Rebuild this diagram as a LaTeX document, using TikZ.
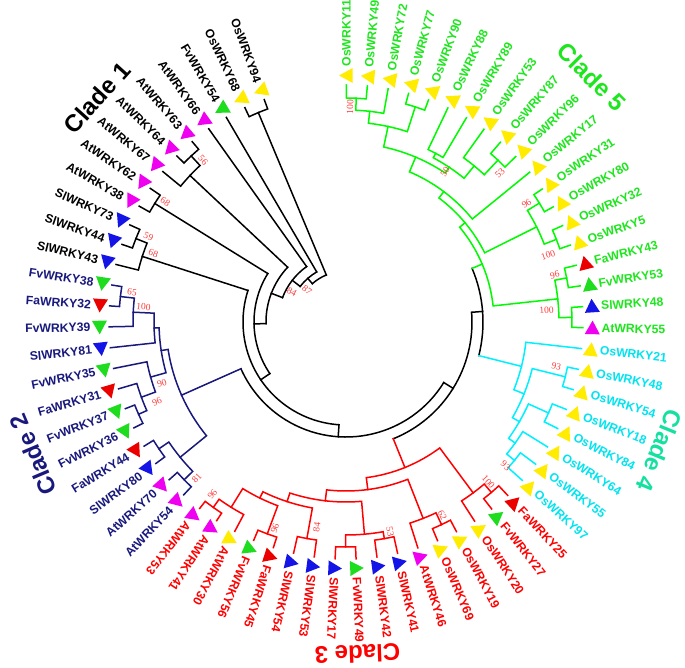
\documentclass[tikz,border=0pt]{standalone}
\usepackage{fontspec}
\setmainfont{Liberation Sans}
\newfontfamily\bsfont{Liberation Serif}
\definecolor{cnavy}{RGB}{25,25,125}
\definecolor{cred}{RGB}{255,0,0}
\definecolor{ccyan}{RGB}{0,240,255}
\definecolor{ccyantext}{RGB}{0,228,240}
\definecolor{cgreen}{RGB}{0,250,0}
\definecolor{cgreentext}{RGB}{30,230,30}
\definecolor{cmint}{RGB}{20,225,160}
\definecolor{tY}{RGB}{255,236,0}
\definecolor{tG}{RGB}{30,220,30}
\definecolor{tR}{RGB}{235,0,0}
\definecolor{tB}{RGB}{20,20,230}
\definecolor{tM}{RGB}{240,0,240}
\definecolor{bsred}{RGB}{255,60,60}
\makeatletter
\newcommand\setang[2]{\pgfmathsetmacro\my@tmp{#2}\expandafter\let\csname ang@#1\endcsname\my@tmp}
\newcommand\A[1]{\csname ang@#1\endcsname}
\newcommand\setrad[2]{\expandafter\def\csname rad@#1\endcsname{#2}}
\newcommand\R[1]{\csname rad@#1\endcsname}
\makeatother
% leaf: name, index, triangle colour, text, text colour, side (R/L)
\newcommand\lf[6]{%
  \setang{#1}{89.9-5.0704*(#2)}\setrad{#1}{237}%
  \coordinate (#1) at (\A{#1}:237pt);%
  \fill[#3, shift={(\A{#1}:246.5pt)}, rotate=\A{#1}] (-7.5pt,-6.3pt) -- (7.5pt,-6.3pt) -- (0pt,7.3pt) -- cycle;%
  \ifx R#6\node[lbl, text=#5, rotate=\A{#1}, anchor=west] (L#1) at (\A{#1}:255.5pt) {#4};%
  \else\pgfmathsetmacro\rot{\A{#1}+180}\node[lbl, text=#5, rotate=\rot, anchor=east] (L#1) at (\A{#1}:255.5pt) {#4};\fi}
% internal node: name, radius, child1, child2, style
\newcommand\tn[5]{%
  \setang{#1}{((\A{#3})+(\A{#4}))/2}\setrad{#1}{#2}%
  \draw[br,#5] (\A{#3}:\R{#3}pt) -- (\A{#3}:#2pt) arc[start angle=\A{#3}, end angle=\A{#4}, radius=#2pt] -- (\A{#4}:\R{#4}pt);%
  \coordinate (#1) at (\A{#1}:#2pt);}
% backbone node: name, radius, child1, child2, style1, style2
\newcommand\bb[6]{%
  \setang{#1}{((\A{#3})+(\A{#4}))/2}\setrad{#1}{#2}%
  \draw[br,brK] (\A{#3}:#2pt) arc[start angle=\A{#3}, end angle=\A{#4}, radius=#2pt];%
  \draw[br,#5] (\A{#3}:#2pt) -- (\A{#3}:\R{#3}pt);%
  \draw[br,#6] (\A{#4}:#2pt) -- (\A{#4}:\R{#4}pt);%
  \coordinate (#1) at (\A{#1}:#2pt);}
\newcommand\bs[5]{\node[bsl, rotate=#4] (#5) at (#1:#2pt) {#3};}
\begin{document}
\begin{tikzpicture}[
  br/.style={line width=1.5pt, line cap=rect},
  brG/.style={draw=cgreen}, brC/.style={draw=ccyan}, brR/.style={draw=cred},
  brN/.style={draw=cnavy}, brK/.style={draw=black},
  lbl/.style={font=\bfseries\fontsize{12.2}{14}\selectfont, inner sep=0pt},
  bsl/.style={font=\bsfont\fontsize{9.5}{10}\selectfont, text=bsred, inner sep=0pt},
  cl/.style={font=\bfseries\fontsize{24}{28}\selectfont, inner sep=0pt}]
\fill[white] (-346pt,-346pt) rectangle (339pt,322pt);
\useasboundingbox (-346pt,-346pt) rectangle (339pt,322pt);
% ---------------- leaves ----------------
% Clade 5
\lf{Os11}{0}{tY}{OsWRKY11}{cgreentext}{R}
\lf{Os49}{1}{tY}{OsWRKY49}{cgreentext}{R}
\lf{Os72}{2}{tY}{OsWRKY72}{cgreentext}{R}
\lf{Os77}{3}{tY}{OsWRKY77}{cgreentext}{R}
\lf{Os90}{4}{tY}{OsWRKY90}{cgreentext}{R}
\lf{Os88}{5}{tY}{OsWRKY88}{cgreentext}{R}
\lf{Os89}{6}{tY}{OsWRKY89}{cgreentext}{R}
\lf{Os53}{7}{tY}{OsWRKY53}{cgreentext}{R}
\lf{Os87}{8}{tY}{OsWRKY87}{cgreentext}{R}
\lf{Os96}{9}{tY}{OsWRKY96}{cgreentext}{R}
\lf{Os17}{10}{tY}{OsWRKY17}{cgreentext}{R}
\lf{Os31}{11}{tY}{OsWRKY31}{cgreentext}{R}
\lf{Os80}{12}{tY}{OsWRKY80}{cgreentext}{R}
\lf{Os32}{13}{tY}{OsWRKY32}{cgreentext}{R}
\lf{Os5}{14}{tY}{OsWRKY5}{cgreentext}{R}
\lf{Fa43}{15}{tR}{FaWRKY43}{cgreentext}{R}
\lf{Fv53}{16}{tG}{FvWRKY53}{cgreentext}{R}
\lf{Sl48}{17}{tB}{SlWRKY48}{cgreentext}{R}
\lf{At55}{18}{tM}{AtWRKY55}{cgreentext}{R}
% Clade 4
\lf{Os21}{19}{tY}{OsWRKY21}{ccyantext}{R}
\lf{Os48}{20}{tY}{OsWRKY48}{ccyantext}{R}
\lf{Os54}{21}{tY}{OsWRKY54}{ccyantext}{R}
\lf{Os18}{22}{tY}{OsWRKY18}{ccyantext}{R}
\lf{Os84}{23}{tY}{OsWRKY84}{ccyantext}{R}
\lf{Os64}{24}{tY}{OsWRKY64}{ccyantext}{R}
\lf{Os55}{25}{tY}{OsWRKY55}{ccyantext}{R}
\lf{Os97}{26}{tY}{OsWRKY97}{ccyantext}{R}
% Clade 3
\lf{Fa25}{27}{tR}{FaWRKY25}{cred}{R}
\lf{Fv27}{28}{tG}{FvWRKY27}{cred}{R}
\lf{Os20}{29}{tY}{OsWRKY20}{cred}{R}
\lf{Os19}{30}{tY}{OsWRKY19}{cred}{R}
\lf{Os69}{31}{tY}{OsWRKY69}{cred}{R}
\lf{At46}{32}{tM}{AtWRKY46}{cred}{R}
\lf{Sl41}{33}{tB}{SlWRKY41}{cred}{R}
\lf{Sl42}{34}{tB}{SlWRKY42}{cred}{R}
\lf{Fv49}{35}{tG}{FvWRKY49}{cred}{R}
\lf{Sl17}{36}{tB}{SlWRKY17}{cred}{R}
\lf{Sl53}{37}{tB}{SlWRKY53}{cred}{R}
\lf{Sl54}{38}{tB}{SlWRKY54}{cred}{R}
\lf{Fa45}{39}{tR}{FaWRKY45}{cred}{R}
\lf{Fv56}{40}{tG}{FvWRKY56}{cred}{R}
\lf{At30}{41}{tY}{AtWRKY30}{cred}{R}
\lf{At41}{42}{tM}{AtWRKY41}{cred}{R}
\lf{At53}{43}{tM}{AtWRKY53}{cred}{R}
% Clade 2
\lf{At54}{44}{tM}{AtWRKY54}{cnavy}{L}
\lf{At70}{45}{tM}{AtWRKY70}{cnavy}{L}
\lf{Sl80}{46}{tB}{SlWRKY80}{cnavy}{L}
\lf{Fa44}{47}{tR}{FaWRKY44}{cnavy}{L}
\lf{Fv36}{48}{tG}{FvWRKY36}{cnavy}{L}
\lf{Fv37}{49}{tG}{FvWRKY37}{cnavy}{L}
\lf{Fa31}{50}{tR}{FaWRKY31}{cnavy}{L}
\lf{Fv35}{51}{tG}{FvWRKY35}{cnavy}{L}
\lf{Sl81}{52}{tB}{SlWRKY81}{cnavy}{L}
\lf{Fv39}{53}{tG}{FvWRKY39}{cnavy}{L}
\lf{Fa32}{54}{tR}{FaWRKY32}{cnavy}{L}
\lf{Fv38}{55}{tG}{FvWRKY38}{cnavy}{L}
% Clade 1
\lf{Sl43}{56}{tB}{SlWRKY43}{black}{L}
\lf{Sl44}{57}{tB}{SlWRKY44}{black}{L}
\lf{Sl73}{58}{tB}{SlWRKY73}{black}{L}
\lf{At38}{59}{tM}{AtWRKY38}{black}{L}
\lf{At62}{60}{tM}{AtWRKY62}{black}{L}
\lf{At67}{61}{tM}{AtWRKY67}{black}{L}
\lf{At64}{62}{tM}{AtWRKY64}{black}{L}
\lf{At63}{63}{tM}{AtWRKY63}{black}{L}
\lf{At66}{64}{tM}{AtWRKY66}{black}{L}
\lf{Fv54}{65}{tG}{FvWRKY54}{black}{L}
\lf{Os68}{66}{tY}{OsWRKY68}{black}{L}
\lf{Os94}{67}{tY}{OsWRKY94}{black}{L}
% ---------------- Clade 5 ----------------
\tn{nAa}{224}{Os11}{Os49}{brG}
\tn{nA}{212}{nAa}{Os72}{brG}
\tn{nB}{226}{Os77}{Os90}{brG}
\tn{nAB}{200}{nA}{nB}{brG}
\tn{nEE}{191}{Os88}{Os89}{brG}
\tn{nES}{222}{Os87}{Os96}{brG}
\tn{nFT}{202}{Os53}{nES}{brG}
\tn{nFifty}{186}{nEE}{nFT}{brG}
\tn{nUa}{179}{nAB}{nFifty}{brG}
\tn{nFb}{163}{nUa}{Os17}{brG}
\tn{nTE}{227}{Os31}{Os80}{brG}
\tn{nTF}{226}{Os32}{Os5}{brG}
\tn{nGa}{213}{nTE}{nTF}{brG}
\tn{nFa}{155}{nFb}{nGa}{brG}
\tn{nFF}{225}{Fa43}{Fv53}{brG}
\tn{nSA}{226}{Sl48}{At55}{brG}
\tn{nGd}{213}{nFF}{nSA}{brG}
\tn{nCfive}{148}{nFa}{nGd}{brG}
% ---------------- Clade 4 ----------------
\tn{nQa}{226}{Os48}{Os54}{brC}
\tn{nQb}{222}{Os18}{Os84}{brC}
\tn{nQc}{218}{Os55}{Os97}{brC}
\tn{nQd}{208}{Os64}{nQc}{brC}
\tn{nQe}{200}{nQb}{nQd}{brC}
\tn{nQf}{192}{nQa}{nQe}{brC}
\tn{nCfour}{181}{Os21}{nQf}{brC}
% ---------------- Clade 3 ----------------
\tn{nHa}{224}{Fa25}{Fv27}{brR}
\tn{nHb}{213}{nHa}{Os20}{brR}
\tn{nHc}{224}{Os19}{Os69}{brR}
\tn{nHd}{211}{At46}{nHc}{brR}
\tn{nHe}{220}{Sl41}{Sl42}{brR}
\tn{nHf}{225}{Fv49}{Sl17}{brR}
\tn{nHg}{213}{nHe}{nHf}{brR}
\tn{nHh}{220}{Sl53}{Sl54}{brR}
\tn{nHi}{226}{Fa45}{Fv56}{brR}
\tn{nHj}{228}{At41}{At53}{brR}
\tn{nHk}{218}{At30}{nHj}{brR}
\tn{nHl}{196}{nHi}{nHk}{brR}
\tn{nHm}{189}{nHh}{nHl}{brR}
\tn{nHn}{180}{nHg}{nHm}{brR}
\tn{nHo}{169}{nHd}{nHn}{brR}
\tn{nCthree}{157}{nHb}{nHo}{brR}
% ---------------- Clade 2 ----------------
\tn{nKa}{227}{Fa32}{Fv38}{brN}
\tn{nKb}{213}{Fv39}{nKa}{brN}
\tn{nKc}{192}{Sl81}{nKb}{brN}
\tn{nKd}{227}{Fv36}{Fv37}{brN}
\tn{nKe}{218}{nKd}{Fa31}{brN}
\tn{nKf}{203}{nKe}{Fv35}{brN}
\tn{nKg}{187}{nKf}{nKc}{brN}
\tn{nKh}{226}{Sl80}{Fa44}{brN}
\tn{nKi}{226}{At54}{At70}{brN}
\tn{nKj}{214}{nKi}{nKh}{brN}
\tn{nCtwo}{180}{nKj}{nKg}{brN}
% ---------------- Clade 1 ----------------
\tn{nMa}{226}{Sl44}{Sl73}{brK}
\tn{nMb}{214}{Sl43}{nMa}{brK}
\tn{nMc}{225}{At38}{At62}{brK}
\tn{nMd}{227}{At64}{At63}{brK}
\tn{nMe}{214}{At67}{nMd}{brK}
\tn{nMf}{227}{Os68}{Os94}{brK}
% ---------------- backbone ----------------
\bb{nY}{137}{nCfive}{nCfour}{brG}{brC}
\bb{nZ}{126}{nY}{nCthree}{brK}{brR}
\bb{nW}{115}{nZ}{nCtwo}{brK}{brN}
\bb{nV}{103}{nW}{nMb}{brK}{brK}
\bb{nU}{92}{nV}{nMc}{brK}{brK}
\bb{nRa}{80}{nU}{nMe}{brK}{brK}
\bb{nRb}{68}{nRa}{At66}{brK}{brK}
\bb{nRc}{58}{nRb}{Fv54}{brK}{brK}
\bb{nRd}{51}{nRc}{nMf}{brK}{brK}
% ---------------- bootstrap values ----------------
\bs{88.9}{215}{100}{88.9}{b1}
\bs{56.6}{180}{50}{56.6}{b2}
\bs{44.0}{214}{53}{44}{b3}
\bs{33.3}{216}{96}{33.3}{b4}
\bs{18.3}{213}{100}{18.3}{b5}
\bs{12.7}{214}{96}{12.7}{b6}
\bs{3.4}{201}{100}{3.4}{b7}
\bs{-12.0}{215}{93}{-12}{b8}
\bs{-42.0}{215}{93}{-42}{b9}
\bs{-48.3}{214}{100}{-48.3}{b10}
\bs{-63.5}{216}{62}{-63.5}{b11}
\bs{-78.1}{214}{53}{-78.1}{b12}
\bs{-98.1}{207}{84}{81.9}{b13}
\bs{-109}{218}{96}{71}{b14}
\bs{-127.8}{218}{96}{52.2}{b15}
\bs{-133.7}{216}{81}{46.3}{b16}
\bs{-157.2}{205}{96}{22.8}{b17}
\bs{-161.6}{194}{90}{18.4}{b18}
\bs{175.7}{203}{100}{-4.3}{b19}
\bs{172}{216}{65}{-8}{b20}
\bs{160.4}{204.5}{68}{-19.6}{b21}
\bs{156.7}{215}{59}{-23.3}{b22}
\bs{146.4}{217}{68}{-33.6}{b23}
\bs{131.4}{216}{56}{-48.6}{b24}
\bs{151}{62}{84}{-29}{b25}
\bs{141}{50}{87}{-39}{b26}
% ---------------- clade labels ----------------
\node[cl, text=black, rotate=48] (clade1) at (138:335pt) {Clade 1};
\node[cl, text=cgreentext, rotate=-45.1] (clade5) at (44.9:347pt) {Clade 5};
\node[cl, text=cmint, rotate=-112.3] (clade4) at (-22.3:339pt) {Clade 4};
\node[cl, text=cred, rotate=-178] (clade3) at (-88:332pt) {Clade 3};
\node[cl, text=cnavy, rotate=113] (clade2) at (203:340pt) {Clade 2};
\end{tikzpicture}
\end{document}
